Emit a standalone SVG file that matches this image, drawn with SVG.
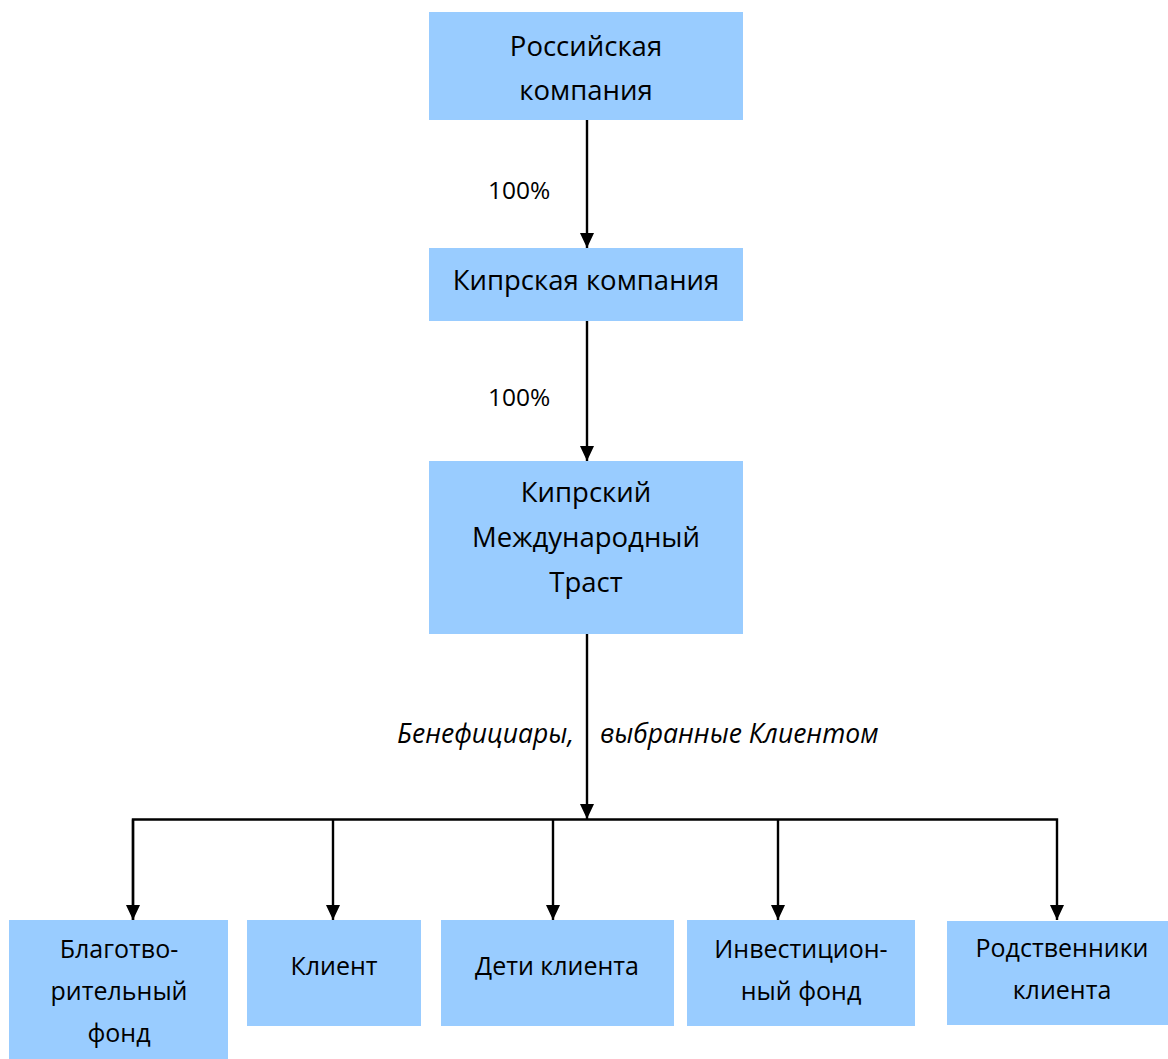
<svg xmlns="http://www.w3.org/2000/svg" width="1168" height="1059" viewBox="0 0 1168 1059">
<style>
.box{fill:#99CCFF;}
.t{font-family:"Open Sans","Liberation Sans",sans-serif;font-size:25px;fill:#000;text-anchor:middle;}
.tl{font-size:27.5px;}
.lbl{font-family:"Open Sans","Liberation Sans",sans-serif;font-size:24.5px;fill:#000;}
.it{font-family:"Open Sans","Liberation Sans",sans-serif;font-size:26.5px;font-style:italic;fill:#000;}
.c{stroke:#000;stroke-width:2.4;fill:none;}
</style>
<defs>
<marker id="ah" markerWidth="15" markerHeight="14" refX="15" refY="7" orient="auto" markerUnits="userSpaceOnUse">
<path d="M0,0 L15,7 L0,14 Z" fill="#000"/>
</marker>
</defs>
<rect width="1168" height="1059" fill="#fff"/>
<g id="connectors">
<line class="c" x1="587" y1="120" x2="587" y2="248" marker-end="url(#ah)"/>
<line class="c" x1="587" y1="321" x2="587" y2="461" marker-end="url(#ah)"/>
<line class="c" x1="587" y1="634" x2="587" y2="819" marker-end="url(#ah)"/>
<polyline class="c" points="133,920 133,819.5 1057,819.5 1057,920" marker-end="url(#ah)"/>
<line class="c" x1="133" y1="819.5" x2="133" y2="920" marker-end="url(#ah)"/>
<line class="c" x1="333" y1="819.5" x2="333" y2="920" marker-end="url(#ah)"/>
<line class="c" x1="553" y1="819.5" x2="553" y2="920" marker-end="url(#ah)"/>
<line class="c" x1="778" y1="819.5" x2="778" y2="920" marker-end="url(#ah)"/>
<text class="lbl" x="488" y="199">100%</text>
<text class="lbl" x="488" y="406">100%</text>
<text class="it" x="397" y="743">Бенефициары,</text>
<text class="it" x="600" y="743">выбранные Клиентом</text>
</g>
<g id="n1"><rect class="box" x="429" y="12" width="314" height="108"/>
<text class="t tl" x="586" y="56">Российская</text><text class="t tl" x="586" y="100">компания</text></g>
<g id="n2"><rect class="box" x="429" y="248" width="314" height="73"/>
<text class="t tl" x="586" y="290">Кипрская компания</text></g>
<g id="n3"><rect class="box" x="429" y="461" width="314" height="173"/>
<text class="t tl" x="586" y="502">Кипрский</text><text class="t tl" x="586" y="547">Международный</text><text class="t tl" x="586" y="592">Траст</text></g>
<g id="n4"><rect class="box" x="9" y="920" width="219" height="139"/>
<text class="t" x="119" y="958">Благотво-</text><text class="t" x="119" y="1000">рительный</text><text class="t" x="119" y="1042">фонд</text></g>
<g id="n5"><rect class="box" x="247" y="920" width="174" height="106"/>
<text class="t" x="334" y="975">Клиент</text></g>
<g id="n6"><rect class="box" x="441" y="920" width="233" height="106"/>
<text class="t" x="557" y="975">Дети клиента</text></g>
<g id="n7"><rect class="box" x="687" y="920" width="228" height="106"/>
<text class="t" x="801" y="958">Инвестицион-</text><text class="t" x="801" y="1000">ный фонд</text></g>
<g id="n8"><rect class="box" x="947" y="921" width="221" height="104"/>
<text class="t" x="1062" y="957">Родственники</text><text class="t" x="1062" y="999">клиента</text></g>
</svg>
